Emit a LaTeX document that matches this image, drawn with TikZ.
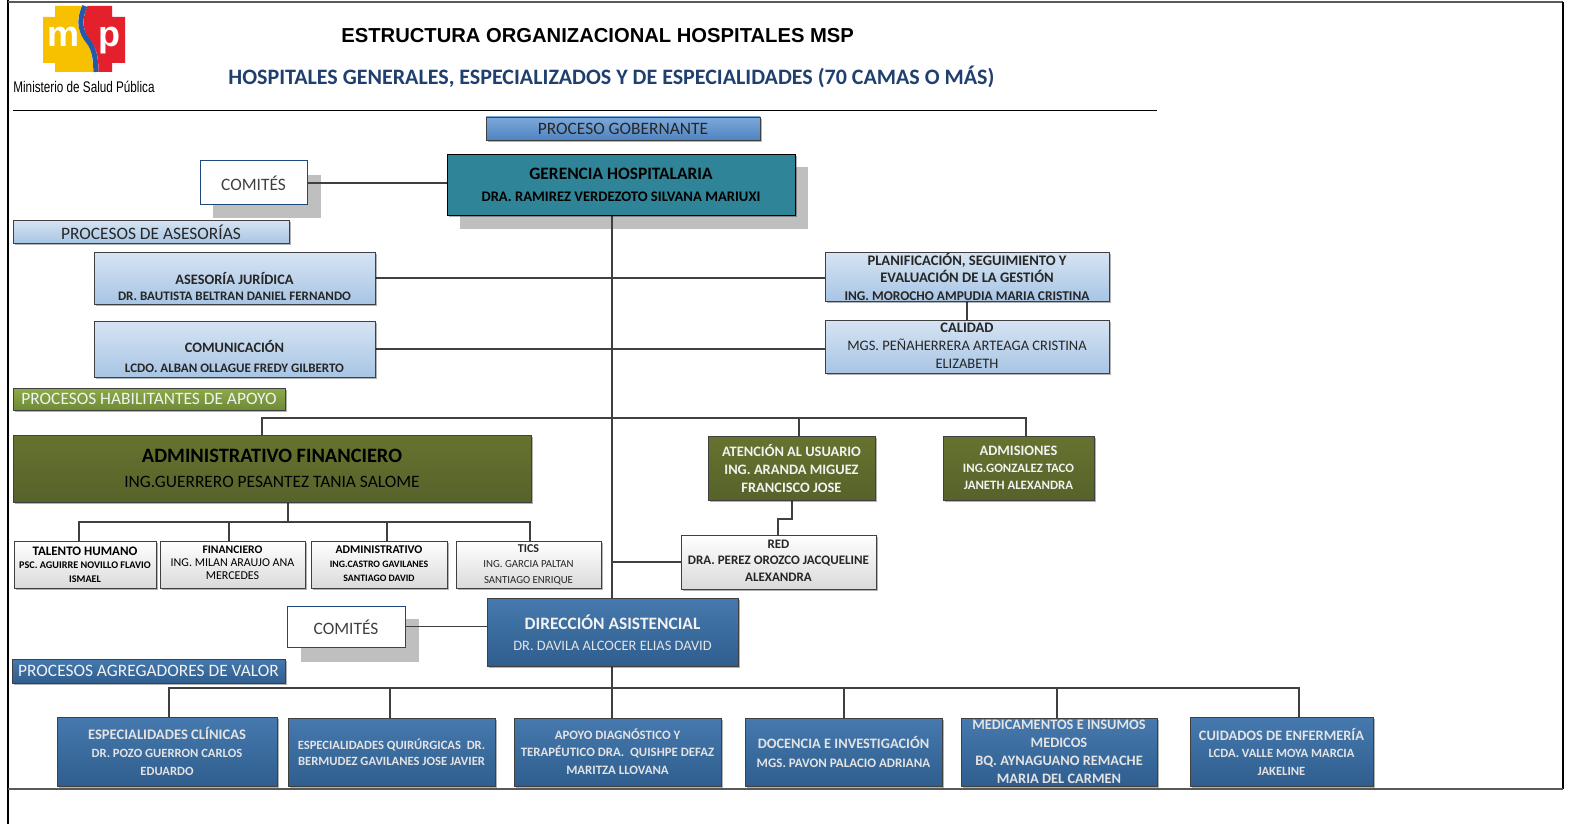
\documentclass[tikz,border=0pt]{standalone}
\usepackage{fontspec}
\setmainfont{Carlito}
\newfontfamily\arialf{Liberation Sans}
\newfontfamily\narrowf[FakeStretch=0.76]{Liberation Sans}
\usetikzlibrary{shadows}
\definecolor{lineg}{HTML}{404040}
\definecolor{bordg}{HTML}{404040}
\definecolor{lbT}{HTML}{D6E4F3}
\definecolor{lbB}{HTML}{A8C5E4}
\definecolor{wbB}{HTML}{DADADA}
\definecolor{olT}{HTML}{66732F}
\definecolor{olB}{HTML}{56622A}
\definecolor{dbT}{HTML}{4679AE}
\definecolor{dbB}{HTML}{2F5E8E}
\definecolor{gerT}{HTML}{2F8497}
\definecolor{gobT}{HTML}{7DA9D9}
\definecolor{gobB}{HTML}{4F83C0}
\definecolor{habT}{HTML}{8CAA4B}
\definecolor{habB}{HTML}{6E8A36}
\definecolor{shg}{HTML}{BFBFBF}
\definecolor{subblue}{HTML}{1F3F6E}
\definecolor{txd}{HTML}{262626}
\definecolor{txl}{HTML}{F2F2F2}
\definecolor{txb}{HTML}{E3E3E3}
\definecolor{comb}{HTML}{1F497D}
\definecolor{logoY}{HTML}{F8C100}
\definecolor{logoR}{HTML}{E3202C}
\definecolor{logoB}{HTML}{2459A8}
\pgfdeclarelayer{bgs}
\pgfdeclarelayer{bg}
\pgfsetlayers{bgs,bg,main}
\newcommand\fsz[1]{\fontsize{#1}{#1}\selectfont}
\newcommand\mkbox[6]{\node[#1, minimum width={(#5-#3)*0.5pt}, minimum height={(#6-#4)*0.5pt}] (#2) at ({(#3+#5)/2},{(#4+#6)/2}) {};}
\tikzset{
  ln/.style={draw=lineg, line width=0.65pt},
  bx/.style={draw=bordg, line width=0.45pt, inner sep=0pt, outer sep=0pt,
     drop shadow={shadow xshift=0.9pt, shadow yshift=-0.9pt, opacity=0.3, fill=black}},
  lblue/.style={bx, top color=lbT, bottom color=lbB},
  wbox/.style={bx, top color=white, bottom color=wbB},
  olive/.style={bx, top color=olT, bottom color=olB},
  dblue/.style={bx, top color=dbT, bottom color=dbB},
  bigsh/.style={fill=shg, draw=none, inner sep=0pt, outer sep=0pt},
  combox/.style={fill=white, draw=comb, line width=0.5pt, inner sep=0pt, outer sep=0pt},
  tx/.style={inner sep=0pt, align=center}
}
\begin{document}
\begin{tikzpicture}[x=0.5pt,y=-0.5pt]
\useasboundingbox (0,0) rectangle (1570,824);
% frame
\draw[line width=1pt, black] (8,0) -- (8,824);
\draw[line width=1pt, black!65] (8,2.5) -- (1563,2.5);
\draw[line width=0.8pt, black] (1563,2) -- (1563,789);
\draw[line width=0.8pt, black!65] (8,789) -- (1563,789);
% logo
\fill[logoY] (43,17) -- (55,17) -- (55,6) -- (82,6) .. controls (75,22) and (78,32) .. (86,42) .. controls (92,50) and (93,60) .. (93,72) -- (55,72) -- (55,63) -- (43,63) -- cycle;
\fill[logoR] (87.5,6) -- (112,6) -- (112,17) -- (125,17) -- (125,63) -- (112,63) -- (112,72) -- (98.5,72) .. controls (98.5,60) and (97.5,50) .. (91.5,42) .. controls (83.5,32) and (80.5,22) .. (87.5,6) -- cycle;
\draw[logoB, line width=2.5pt] (84.8,6) .. controls (77.8,22) and (80.8,32) .. (88.8,42) .. controls (94.8,50) and (95.8,60) .. (95.8,72);
\node[inner sep=0pt, anchor=base, text=white, font=\arialf\bfseries\fsz{18}] (logom) at (64,47) {m};
\node[inner sep=0pt, anchor=base, text=white, font=\arialf\bfseries\fsz{18}] (logop) at (109,47) {p};
\node[inner sep=0pt, anchor=base west, font=\narrowf\fsz{7.7}] (minis) at (13,93) {Ministerio de Salud Pública};
% titles
\node[inner sep=0pt, anchor=base west, font=\arialf\bfseries\fsz{10.1}] (title) at (341,43) {ESTRUCTURA ORGANIZACIONAL HOSPITALES MSP};
\node[inner sep=0pt, anchor=base west, text=subblue, font=\bfseries\fsz{11}] (subtitle) at (228,85) {HOSPITALES GENERALES, ESPECIALIZADOS Y DE ESPECIALIDADES (70 CAMAS O MÁS)};
\draw[line width=0.5pt] (13,111) -- (1157,111);
% gobernante
\mkbox{bx, top color=gobT, bottom color=gobB}{gob}{486}{117}{760}{140}
\node[tx, font=\fsz{8.7}, text=txd] (gob-t) at (623,128.5) {PROCESO GOBERNANTE};
\begin{pgfonlayer}{bgs}
\mkbox{bigsh}{gersh}{460}{167}{808}{229}
\mkbox{bigsh}{c1sh}{213}{175}{321}{218}
\mkbox{bigsh}{c2sh}{301}{619}{419}{662}
\end{pgfonlayer}
\mkbox{bx, fill=gerT, draw=black}{ger}{447}{154}{795}{215}
\node[tx, font=\bfseries\fontsize{8.7}{11}\selectfont] (ger-t) at (621,184.5) {GERENCIA HOSPITALARIA\\{\fsz{7.3}DRA. RAMIREZ VERDEZOTO SILVANA MARIUXI}};
\mkbox{combox}{c1}{200}{161}{307}{205}
\node[tx, font=\fsz{8.7}, text=lineg] (c1-t) at (253.5,183) {COMITÉS};
% asesorias
\mkbox{lblue}{pa}{13}{220}{289}{243}
\node[tx, font=\fsz{8.7}, text=txd] (pa-t) at (151,232) {PROCESOS DE ASESORÍAS};
\mkbox{lblue}{aj}{94}{252}{375}{304}
\node[tx, text=txd, font=\bfseries\fontsize{7.2}{8.5}\selectfont] (aj-t) at (234.5,286.5) {ASESORÍA JURÍDICA\\{\fsz{6.5}DR. BAUTISTA BELTRAN DANIEL FERNANDO}};
\mkbox{lblue}{com}{94}{321}{375}{377}
\node[tx, text=txd, font=\bfseries\fontsize{7.2}{9.5}\selectfont] (com-t) at (234.5,356.5) {COMUNICACIÓN\\{\fsz{6.5}LCDO. ALBAN OLLAGUE FREDY GILBERTO}};
\mkbox{lblue}{plan}{825}{252}{1109}{301}
\node[tx, text=txd, font=\bfseries\fontsize{7.3}{8.75}\selectfont] (plan-t) at (967,276.5) {PLANIFICACIÓN, SEGUIMIENTO Y\\EVALUACIÓN DE LA GESTIÓN\\{\fsz{6.7}ING. MOROCHO AMPUDIA MARIA CRISTINA}};
\mkbox{lblue}{cal}{825}{320}{1109}{373}
\node[tx, text=txd, font=\fontsize{7.25}{9}\selectfont] (cal-t) at (967,346) {\textbf{CALIDAD}\\MGS. PEÑAHERRERA ARTEAGA CRISTINA\\ELIZABETH};
% habilitantes
\mkbox{bx, top color=habT, bottom color=habB}{hab}{13}{388}{285}{410}
\node[tx, font=\fsz{8.7}, text=txl] (hab-t) at (149,398.5) {PROCESOS HABILITANTES DE APOYO};
\mkbox{olive}{af}{13}{435}{531}{502}
\node[tx, font=\bfseries\fontsize{10.2}{12.5}\selectfont] (af-t) at (272,468.5) {ADMINISTRATIVO FINANCIERO\\{\mdseries\fsz{8.7}ING.GUERRERO PESANTEZ TANIA SALOME}};
\mkbox{olive}{at}{708}{436}{875}{500}
\node[tx, text=txl, font=\bfseries\fontsize{7.2}{9}\selectfont] (at-t) at (791.5,468) {ATENCIÓN AL USUARIO\\ING. ARANDA MIGUEZ\\FRANCISCO JOSE};
\mkbox{olive}{adm}{943}{436}{1094}{500}
\node[tx, text=txl, font=\bfseries\fontsize{7.2}{8.5}\selectfont] (adm-t) at (1018.5,468) {ADMISIONES\\{\fsz{6.4}ING.GONZALEZ TACO}\\{\fsz{6.4}JANETH ALEXANDRA}};
\mkbox{wbox}{th}{14}{541}{156}{588}
\node[tx, text=black, font=\bfseries\fontsize{6.5}{6.75}\selectfont] (th-t) at (85,564.5) {TALENTO HUMANO\\{\fsz{5.1}PSC. AGUIRRE NOVILLO FLAVIO}\\{\fsz{5.1}ISMAEL}};
\mkbox{wbox}{fin}{160}{541}{305}{588}
\node[tx, text=black, font=\fontsize{6}{6.5}\selectfont] (fin-t) at (232.5,563) {{\bfseries\fsz{5.8}FINANCIERO}\\ING. MILAN ARAUJO ANA\\MERCEDES};
\mkbox{wbox}{admv}{311}{541}{447}{588}
\node[tx, text=black, font=\bfseries\fontsize{5.9}{7}\selectfont] (admv-t) at (379,564) {ADMINISTRATIVO\\{\fsz{4.9}ING.CASTRO GAVILANES}\\{\fsz{4.9}SANTIAGO DAVID}};
\mkbox{wbox}{tics}{456}{541}{601}{588}
\node[tx, text=txd, font=\fontsize{5.4}{7.75}\selectfont] (tics-t) at (528.5,564.5) {{\bfseries\fsz{6}TICS}\\ING. GARCIA PALTAN\\SANTIAGO ENRIQUE};
\mkbox{wbox}{red}{681}{535}{876}{589}
\node[tx, text=txd, font=\bfseries\fontsize{6.5}{8.25}\selectfont] (red-t) at (778.5,560.5) {RED\\DRA. PEREZ OROZCO JACQUELINE\\ALEXANDRA};
% direccion
\mkbox{combox}{c2}{287}{606}{405}{647}
\node[tx, font=\fsz{8.7}, text=lineg] (c2-t) at (346,627) {COMITÉS};
\mkbox{dblue}{dir}{487}{598}{738}{666}
\node[tx, text=txl, font=\bfseries\fontsize{8.7}{10.5}\selectfont] (dir-t) at (612.5,632.5) {DIRECCIÓN ASISTENCIAL\\{\mdseries\fsz{7.2}\color{txb}DR. DAVILA ALCOCER ELIAS DAVID}};
\mkbox{bx, top color=dbT, bottom color=dbB}{agr}{12}{659}{285}{683}
\node[tx, font=\fsz{8.7}, text=txl] (agr-t) at (148.5,671) {PROCESOS AGREGADORES DE VALOR};
% bottom row
\mkbox{dblue}{clin}{57}{717}{277}{786}
\node[tx, text=txb, font=\bfseries\fontsize{7.3}{8.9}\selectfont] (clin-t) at (167,751.5) {ESPECIALIDADES CLÍNICAS\\{\fsz{6.3}DR. POZO GUERRON CARLOS}\\{\fsz{6.3}EDUARDO}};
\mkbox{dblue}{quir}{288}{718}{495}{786}
\node[tx, text=txb, font=\bfseries\fontsize{6.3}{8}\selectfont] (quir-t) at (391.5,752) {ESPECIALIDADES QUIRÚRGICAS~ DR.\\BERMUDEZ GAVILANES JOSE JAVIER};
\mkbox{dblue}{apo}{514}{718}{721}{786}
\node[tx, text=txb, font=\bfseries\fontsize{6.4}{8.75}\selectfont] (apo-t) at (617.5,751.5) {APOYO DIAGNÓSTICO Y\\TERAPÉUTICO DRA.~ QUISHPE DEFAZ\\MARITZA LLOVANA};
\mkbox{dblue}{doc}{745}{718}{942}{786}
\node[tx, text=txb, font=\bfseries\fontsize{7.2}{9.5}\selectfont] (doc-t) at (843.5,751.5) {DOCENCIA E INVESTIGACIÓN\\{\fsz{6.5}MGS. PAVON PALACIO ADRIANA}};
\mkbox{dblue}{med}{961}{718}{1157}{786}
\node[tx, text=txb, font=\bfseries\fontsize{7.2}{9}\selectfont] (med-t) at (1059,752) {MEDICAMENTOS E INSUMOS\\MEDICOS\\BQ. AYNAGUANO REMACHE\\MARIA DEL CARMEN};
\mkbox{dblue}{cui}{1190}{717}{1373}{786}
\node[tx, text=txb, font=\bfseries\fontsize{7.2}{8.75}\selectfont] (cui-t) at (1281.5,751.5) {CUIDADOS DE ENFERMERÍA\\{\fsz{6.3}LCDA. VALLE MOYA MARCIA}\\{\fsz{6.3}JAKELINE}};
% connectors
\coordinate (spX) at (612,0);
\coordinate (hbL) at (262,418);
\coordinate (hbR) at (1026,418);
\coordinate (hbA) at (799,418);
\coordinate (afB) at (288,522);
\coordinate (afL) at (79,522);
\coordinate (afF) at (229,522);
\coordinate (afA) at (387,522);
\coordinate (afR) at (530,522);
\coordinate (rj1) at (792,519);
\coordinate (rj2) at (778,519);
\coordinate (bb) at (612,688);
\coordinate (bb1) at (169,688);
\coordinate (bb2) at (390,688);
\coordinate (bb4) at (844,688);
\coordinate (bb5) at (1057,688);
\coordinate (bb6) at (1299,688);
\begin{pgfonlayer}{bg}
\draw[ln] (c1.east) -- (c1.east -| ger.west);
\draw[ln] (ger.south -| spX) -- (dir.north -| spX);
\draw[ln] (aj.east) -- (aj.east -| plan.west);
\draw[ln] (com.east) -- (com.east -| cal.west);
\draw[ln] (plan.south) -- (cal.north);
\draw[ln] (hbL |- af.north) -- (hbL) -- (hbR) -- (hbR |- adm.north);
\draw[ln] (hbA) -- (hbA |- at.north);
\draw[ln] (afB |- af.south) -- (afB);
\draw[ln] (afL |- th.north) -- (afL) -- (afR) -- (afR |- tics.north);
\draw[ln] (afF) -- (afF |- fin.north);
\draw[ln] (afA) -- (afA |- admv.north);
\draw[ln] (rj1 |- at.south) -- (rj1) -- (rj2) -- (rj2 |- red.north);
\draw[ln] (red.west) -- (red.west -| spX);
\draw[ln] (c2.east) -- (c2.east -| dir.west);
\draw[ln] (dir.south -| spX) -- (bb);
\draw[ln] (bb1 |- clin.north) -- (bb1) -- (bb6) -- (bb6 |- cui.north);
\draw[ln] (bb2) -- (bb2 |- quir.north);
\draw[ln] (bb) -- (bb |- apo.north);
\draw[ln] (bb4) -- (bb4 |- doc.north);
\draw[ln] (bb5) -- (bb5 |- med.north);
\end{pgfonlayer}
\end{tikzpicture}
\end{document}
